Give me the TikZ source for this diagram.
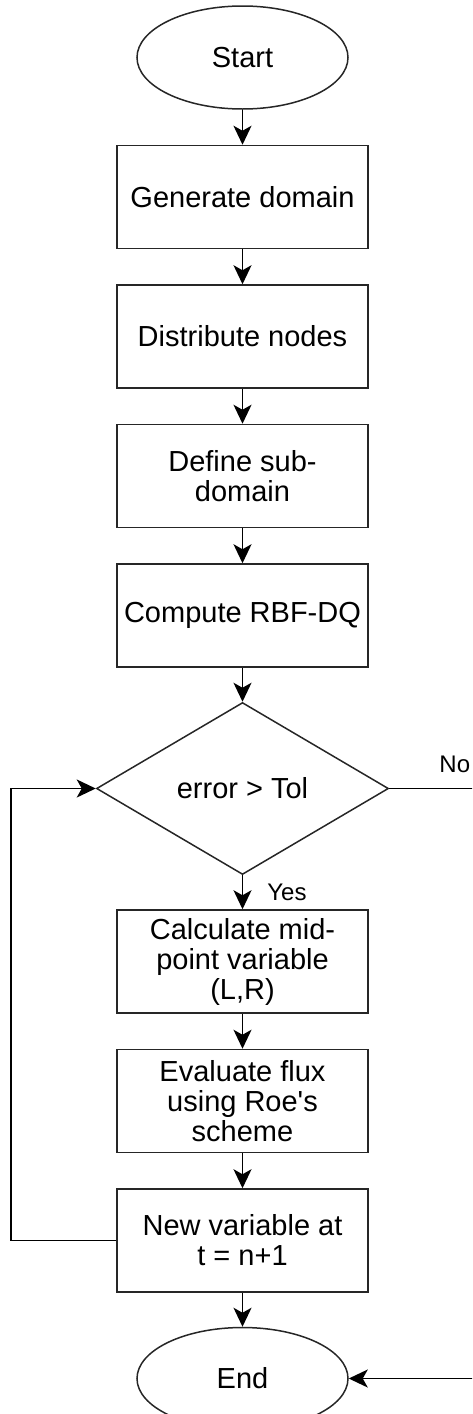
\documentclass[tikz,border=0pt]{standalone}
\usepackage{fontspec}
\setmainfont{Liberation Sans}
\usetikzlibrary{shapes.geometric}
\usetikzlibrary{arrows.meta}
\usetikzlibrary{positioning}
\tikzset{
	fcnode/.style = {align=center, inner sep=0pt, text centered,
		font=\fontsize{29}{30}\selectfont, draw=black!85, line width=1.5pt},
	fc_t/.style = {fcnode, ellipse, minimum width=211pt,
		minimum height=103pt},% flowchart, terminal
	fc_p/.style = {fcnode, rectangle, minimum width=251pt,
		minimum height=103pt},% flowchart, process
	fc_d/.style = {fcnode, diamond, minimum width=292pt,
		minimum height=172pt},% flowchart, decision
	fc_l/.style = {font=\fontsize{24}{26}\selectfont, inner sep=0pt}% flowchart, label
}

\begin{document}
\begin{tikzpicture}[x=1pt,y=1pt,line width=1.8pt,
		>={Stealth[length=19pt,width=18pt,inset=5pt]},node distance=35pt]
	\useasboundingbox (0,0) rectangle (472,-1414);
	\clip (0,0) rectangle (472,-1414);
	\node [fc_t] (start) at (242.5,-57.5) {Start};
	\node [fc_p, below=of start] (gen) {Generate domain};
	\node [fc_p, below=of gen] (dist) {Distribute nodes};
	\node [fc_p, below=of dist] (subdom) {Define sub-\\domain};
	\node [fc_p, below=of subdom] (rbfdq) {Compute RBF-DQ};
	\node [fc_d, below=34pt of rbfdq] (err) {error {>} Tol};
	\node [fc_p, below=34pt of err] (midpt) {Calculate mid-\\point variable\\(L,R)};
	\node [fc_p, below=of midpt] (flux) {Evaluate flux\\using Roe\textquotesingle s\\scheme};
	\node [fc_p, below=of flux] (newvar) {New variable at\\t = n+1};
	\node [fc_t, minimum height=102pt, below=34pt of newvar] (stop) {End};

	\draw [->] (start) -- (gen);
	\draw [->] (gen) -- (dist);
	\draw [->] (dist) -- (subdom);
	\draw [->] (subdom) -- (rbfdq);
	\draw [->] (rbfdq) -- (err);
	\draw [->] (err) -- node[fc_l, right=24pt] {Yes} (midpt);
	\draw [->] (midpt) -- (flux);
	\draw [->] (flux) -- (newvar);
	\draw [->] (newvar) -- (stop);
	% loop back
	\draw [->] (newvar.west) -- ++(-105.5,0) |- (err.west);
	% exit
	\draw [->] (err.east) -- node[fc_l, above=15pt, pos=0.585] {No} ++(112,0) |- (stop.east);
\end{tikzpicture}
\end{document}
